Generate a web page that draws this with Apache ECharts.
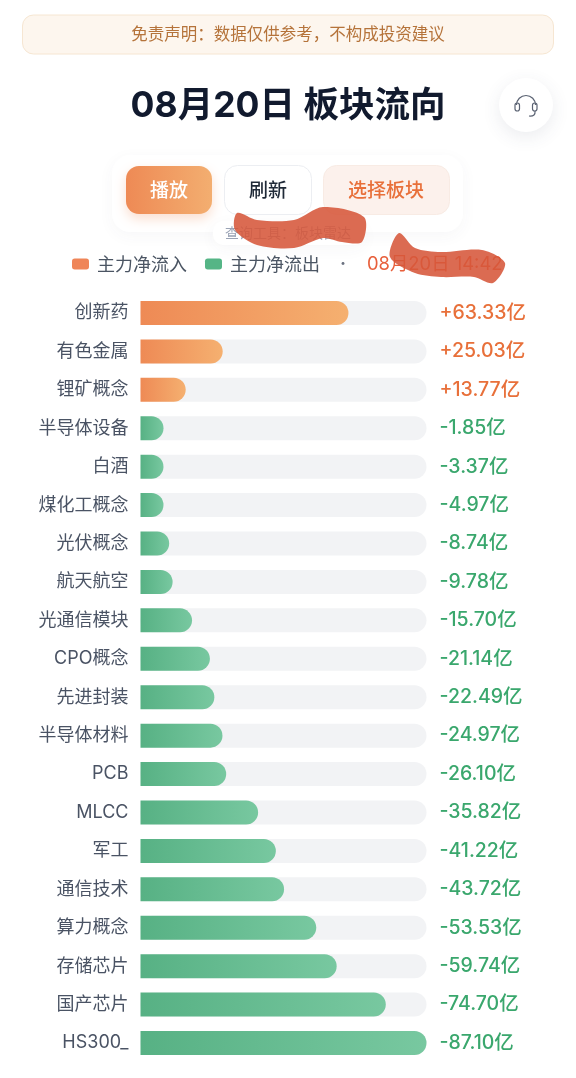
<!DOCTYPE html>
<html lang="zh">
<head>
<meta charset="utf-8">
<title>板块流向</title>
<script src="https://cdn.jsdelivr.net/npm/echarts@6/dist/echarts.min.js"></script>
<style>
  html, body { margin: 0; padding: 0; background: #fff; }
  #chart { width: 576px; height: 1078px; }
</style>
</head>
<body>
<div id="chart"></div>
<script>
// ---- data ----
const categories = ['创新药', '有色金属', '锂矿概念', '半导体设备', '白酒', '煤化工概念', '光伏概念', '航天航空', '光通信模块', 'CPO概念',
  '先进封装', '半导体材料', 'PCB', 'MLCC', '军工', '通信技术', '算力概念', '存储芯片', '国产芯片', 'HS300_'];
const flows = [63.33, 25.03, 13.77, -1.85, -3.37, -4.97, -8.74, -9.78, -15.70, -21.14,
  -22.49, -24.97, -26.10, -35.82, -41.22, -43.72, -53.53, -59.74, -74.70, -87.10];
const legendNames = ['主力净流入', '主力净流出'];

const FONT = 'Inter, "Noto Sans CJK SC", sans-serif';
const CJK = '"Noto Sans CJK SC", sans-serif';
const ORANGE = '#e8703a';
const GREEN = '#3aa76d';

const inflow = flows.map((v) => (v > 0 ? v : null));
const outflow = flows.map((v) => (v < 0 ? -v : null));
const valueLabels = flows.map((v) => (v > 0 ? '+' : '') + v.toFixed(2) + '亿');
const maxFlow = Math.max(...flows.map(Math.abs));

const grad = (a, b) => ({
  type: 'linear', x: 0, y: 0, x2: 1, y2: 0,
  colorStops: [{ offset: 0, color: a }, { offset: 1, color: b }],
});

// ---- header pieces ----
function box(x, y, width, height, r, fill, extra) {
  return { type: 'rect', shape: { x, y, width, height, r }, style: Object.assign({ fill }, extra) };
}
function label(text, x, y, font, fill, align) {
  return {
    type: 'text', x, y, z: 5,
    style: { text, font, fill, align: align || 'center', verticalAlign: 'middle' },
  };
}
const softShadow = { shadowColor: 'rgba(60,70,100,0.10)', shadowBlur: 18, shadowOffsetY: 5 };
const faintShadow = { shadowColor: 'rgba(60,70,100,0.045)', shadowBlur: 16, shadowOffsetY: 4 };
const iconLine = { fill: 'none', stroke: '#5a6272', lineWidth: 1.2 };
const smear = { fill: 'rgba(214,86,58,0.88)' };

const header = [
  box(22.5, 15, 531, 39, 11, '#fdf6ee', { stroke: '#f6e6d2', lineWidth: 1 }),
  label('免责声明：数据仅供参考，不构成投资建议', 288, 34, '400 16.5px ' + CJK, '#b5733a'),
  label('08月20日 板块流向', 288, 106, '700 35.5px ' + FONT, '#111a2e'),

  // headset button
  { type: 'circle', shape: { cx: 526, cy: 105, r: 27 }, style: Object.assign({ fill: '#fff' }, softShadow) },
  { type: 'arc', z: 5, shape: { cx: 526, cy: 105, r: 9.5, startAngle: Math.PI, endAngle: 0 }, style: iconLine },
  { type: 'rect', z: 5, shape: { x: 515, y: 103, width: 4.5, height: 8, r: 2.2 }, style: iconLine },
  { type: 'rect', z: 5, shape: { x: 532.5, y: 103, width: 4.5, height: 8, r: 2.2 }, style: iconLine },
  { type: 'polyline', z: 5, shape: { points: [[535, 111], [534, 115], [529, 116]], smooth: 0.5 }, style: iconLine },

  // button panel
  box(112, 155, 351, 77, 18, '#fff', faintShadow),
  box(126, 166, 86, 48, 13, grad('#ee8a55', '#f3ae70'), { shadowColor: 'rgba(238,138,85,0.28)', shadowBlur: 12, shadowOffsetY: 5 }),
  label('播放', 169, 190, '500 19px ' + CJK, '#fff'),
  box(224.5, 165.5, 87, 49, 13, '#fff', { stroke: '#eceef2', lineWidth: 1 }),
  label('刷新', 268, 190, '500 19px ' + CJK, '#1f2937'),
  box(323.5, 165.5, 126, 49, 13, '#fcf1ec', { stroke: '#f8ebe4', lineWidth: 1 }),
  label('选择板块', 386, 190, '500 19px ' + CJK, '#e8703a'),
  box(213, 221, 152, 24, 10, '#fff', faintShadow),
  label('查询工具：板块雷达', 288, 233, '400 14px ' + CJK, '#9aa3b5'),

  // legend tail
  label('·', 343, 263, '400 14px ' + CJK, '#6b7280'),
  label('08月20日 14:42', 367, 264, '400 18.4px ' + FONT, '#e8603c', 'left'),

  // hand-drawn red marks over the picture
  {
    type: 'polygon', z: 8,
    shape: { points: [[237, 213], [257, 220], [294, 220], [323, 207], [364, 217], [362, 242], [342, 242], [323, 238], [294, 248], [257, 245], [235, 230]], smooth: 0.3 },
    style: smear,
  },
  {
    type: 'polygon', z: 8,
    shape: { points: [[399, 233], [415, 248], [441, 252], [482, 250], [505, 263], [493, 283], [474, 277], [441, 277], [415, 273], [390, 257]], smooth: 0.3 },
    style: smear,
  },
];

// ---- chart ----
const chart = echarts.init(document.getElementById('chart'));
chart.setOption({
  animation: false,
  backgroundColor: '#fff',
  graphic: { elements: header },
  legend: {
    left: 72, top: 255, padding: 0, itemWidth: 17, itemHeight: 11, itemGap: 18,
    icon: 'roundRect', selectedMode: false,
    textStyle: { fontFamily: CJK, fontSize: 18, color: '#4b5563', padding: [0, 0, 0, 3] },
    data: [
      { name: legendNames[0], itemStyle: { color: '#ef8558' } },
      { name: legendNames[1], itemStyle: { color: '#55b586' } },
    ],
  },
  grid: { left: 140.5, top: 293.8, width: 286, height: 768.4 },
  xAxis: { type: 'value', min: 0, max: maxFlow, show: false },
  yAxis: [
    {
      type: 'category', inverse: true, data: categories,
      axisLine: { show: false }, axisTick: { show: false },
      axisLabel: { margin: 12, fontFamily: FONT, fontSize: 18, color: '#4a5364' },
    },
    {
      type: 'category', inverse: true, position: 'right', data: valueLabels,
      axisLine: { show: false }, axisTick: { show: false },
      axisLabel: {
        margin: 13, fontFamily: FONT, fontSize: 19.5, fontWeight: 500,
        color: (val, i) => (flows[i] > 0 ? ORANGE : GREEN),
      },
    },
  ],
  series: [
    {
      name: legendNames[1], type: 'bar', z: 2, data: outflow,
      barWidth: 24, barGap: '-100%', barMinHeight: 23,
      showBackground: true,
      backgroundStyle: { color: '#f2f3f5', borderRadius: 12 },
      itemStyle: { color: grad('#57b184', '#78c8a0'), borderRadius: [0, 12, 12, 0] },
    },
    {
      name: legendNames[0], type: 'bar', z: 3, data: inflow,
      barWidth: 24, barGap: '-100%', barMinHeight: 23,
      itemStyle: { color: grad('#ee8a55', '#f5b070'), borderRadius: [0, 12, 12, 0] },
    },
  ],
});
</script>
</body>
</html>
